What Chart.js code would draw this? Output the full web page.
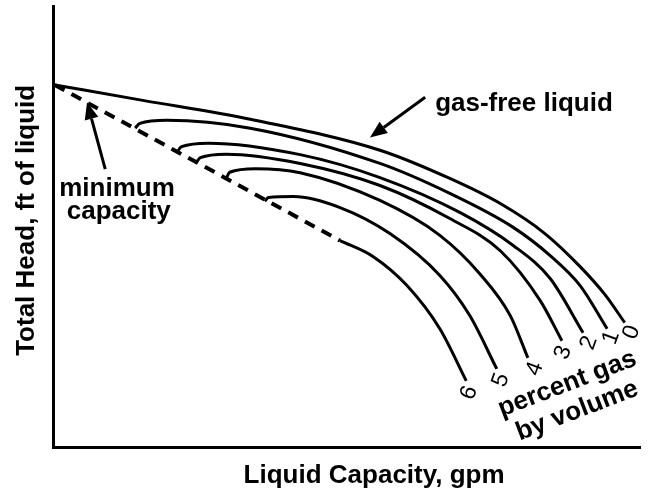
<!DOCTYPE html>
<html>
<head>
<meta charset="utf-8">
<script src="https://cdn.jsdelivr.net/npm/chart.js@4.4.0/dist/chart.umd.min.js"></script>
<style>
  html, body { margin: 0; padding: 0; background: #fff; }
  #wrap { width: 652px; height: 493px; position: relative; }
</style>
</head>
<body>
<div id="wrap"><canvas id="pumpChart"></canvas></div>
<script>
// head vs capacity curves (relative units 0-100)
const gas0 = [[0.3, 82.1], [15.3, 78.6], [33.6, 74.3], [55.7, 67.3], [67.6, 60.9], [76.2, 55.2], [83.8, 48.4], [89.8, 40.9], [94.0, 34.6], [97.4, 28.2]];
const gas1 = [[14.0, 72.3], [14.8, 73.4], [19.4, 74.1], [33.6, 72.3], [55.7, 64.3], [67.6, 57.5], [78.4, 49.8], [84.7, 43.4], [89.8, 36.6], [94.4, 26.8]];
const gas2 = [[21.1, 66.8], [21.9, 68.1], [26.5, 68.9], [42.1, 66.3], [55.7, 61.1], [69.3, 53.2], [78.4, 45.7], [84.7, 38.2], [90.3, 25.9]];
const gas3 = [[24.4, 64.5], [25.1, 65.6], [29.5, 66.4], [42.1, 64.3], [55.7, 59.3], [67.6, 51.8], [76.2, 44.5], [83.0, 33.2], [86.7, 24.1]];
const gas4 = [[29.5, 60.9], [30.1, 62.3], [34.5, 63.1], [42.1, 62.2], [55.7, 55.9], [65.9, 48.0], [72.7, 39.3], [77.9, 29.8], [80.9, 20.2]];
const gas5 = [[36.1, 55.7], [36.7, 56.6], [41.0, 56.8], [48.9, 54.3], [57.4, 48.4], [65.9, 38.9], [71.0, 29.8], [75.6, 17.7]];
const gas6 = [[48.9, 46.8], [54.5, 43.2], [60.3, 36.6], [65.9, 26.8], [70.4, 15.0]];
const minCapacity = [[0.3, 82.1], [48.9, 46.8]];

const curveNames = ['0', '1', '2', '3', '4', '5', '6'];
const curveLabelPos = [[98.6, 26.0], [95.1, 24.8], [91.3, 23.6], [86.9, 21.4], [82.1, 17.7], [76.3, 15.2], [70.9, 12.3]];

const xRange = [0, 100];
const yRange = [0, 100];

const toPoints = (arr) => arr.map(([x, y]) => ({ x, y }));
const curves = [gas0, gas1, gas2, gas3, gas4, gas5, gas6];

const datasets = curves.map((c, i) => ({
  label: curveNames[i] + '%',
  data: toPoints(c),
  borderColor: '#000',
  borderWidth: 3,
  pointRadius: 0,
  cubicInterpolationMode: 'monotone',
  fill: false
}));
datasets.push({
  label: 'minimum capacity',
  data: toPoints(minCapacity),
  borderColor: '#000',
  borderWidth: 4,
  borderDash: [11, 8],
  pointRadius: 0,
  tension: 0,
  fill: false
});

const BOLD = 'bold 26px "Liberation Sans", Arial, sans-serif';
const DIGIT = '23px "Liberation Sans", Arial, sans-serif';

const arrow = (ctx, x1, y1, x2, y2) => {
  const ang = Math.atan2(y2 - y1, x2 - x1);
  const len = 17, half = 7;
  const bx = x2 - len * Math.cos(ang), by = y2 - len * Math.sin(ang);
  ctx.beginPath();
  ctx.moveTo(x1, y1);
  ctx.lineTo(bx, by);
  ctx.lineWidth = 3;
  ctx.stroke();
  ctx.beginPath();
  ctx.moveTo(x2, y2);
  ctx.lineTo(bx + half * Math.sin(ang), by - half * Math.cos(ang));
  ctx.lineTo(bx - half * Math.sin(ang), by + half * Math.cos(ang));
  ctx.closePath();
  ctx.fill();
};

const annotations = {
  id: 'annotations',
  afterDatasetsDraw(chart) {
    const { ctx } = chart;
    const sx = chart.scales.x, sy = chart.scales.y;
    const px = (v) => sx.getPixelForValue(v);
    const py = (v) => sy.getPixelForValue(v);
    ctx.save();
    ctx.fillStyle = '#000';
    ctx.strokeStyle = '#000';

    ctx.font = BOLD;
    ctx.textBaseline = 'alphabetic';
    ctx.textAlign = 'left';
    ctx.fillText('gas-free liquid', px(65.1), py(76.1));
    ctx.textAlign = 'center';
    ctx.fillText('minimum', px(10.9), py(57.0));
    ctx.fillText('capacity', px(11.2), py(51.8));

    arrow(ctx, px(63.4), py(79.3), px(54.0), py(70.2));
    arrow(ctx, px(8.9), py(63.0), px(5.8), py(78.2));

    // curve labels
    ctx.font = DIGIT;
    ctx.textBaseline = 'middle';
    curveNames.forEach((n, i) => {
      ctx.save();
      ctx.translate(px(curveLabelPos[i][0]), py(curveLabelPos[i][1]));
      ctx.rotate(-70 * Math.PI / 180);
      ctx.fillText(n, 0, 0);
      ctx.restore();
    });

    ctx.font = BOLD;
    [['percent gas', 87.6, 14.3], ['by volume', 89.3, 8.2]].forEach(([t, x, y]) => {
      ctx.save();
      ctx.translate(px(x), py(y));
      ctx.rotate(-21 * Math.PI / 180);
      ctx.fillText(t, 0, 0);
      ctx.restore();
    });

    // axis titles
    ctx.textBaseline = 'alphabetic';
    ctx.fillText('Liquid Capacity, gpm', px(54.7), 483);
    ctx.save();
    ctx.translate(34, py(51.4));
    ctx.rotate(-Math.PI / 2);
    ctx.fillText('Total Head, ft of liquid', 0, 0);
    ctx.restore();
    ctx.restore();
  }
};

new Chart(document.getElementById('pumpChart'), {
  type: 'line',
  data: { datasets },
  options: {
    responsive: true,
    maintainAspectRatio: false,
    animation: false,
    layout: { padding: { left: 53, right: 12, top: 6, bottom: 46 } },
    plugins: { legend: { display: false }, tooltip: { enabled: false } },
    scales: {
      x: {
        type: 'linear', min: xRange[0], max: xRange[1],
        ticks: { display: false },
        grid: { display: false, drawTicks: false },
        border: { color: '#000', width: 3 },
        afterFit: (s) => { s.height = 0; }
      },
      y: {
        type: 'linear', min: yRange[0], max: yRange[1],
        ticks: { display: false },
        grid: { display: false, drawTicks: false },
        border: { color: '#000', width: 3 },
        afterFit: (s) => { s.width = 0; }
      }
    }
  },
  plugins: [annotations]
});
</script>
</body>
</html>
